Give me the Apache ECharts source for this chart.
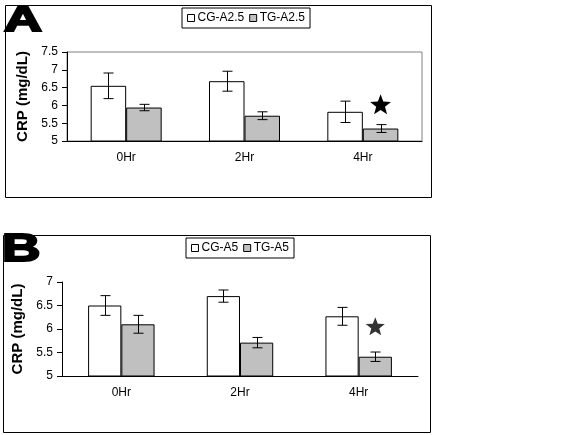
<!DOCTYPE html>
<html>
<head>
<meta charset="utf-8">
<script src="https://cdn.jsdelivr.net/npm/echarts@6/dist/echarts.min.js"></script>
<style>
  html, body { margin: 0; padding: 0; background: #fff; }
  #main { width: 583px; height: 435px; }
</style>
</head>
<body>
<div id="main"></div>
<script>
// categories / values
const categories = ['0Hr', '2Hr', '4Hr'];
// panel A
const cgA = [6.55, 6.68, 5.82];
const cgAErr = [0.36, 0.28, 0.30];
const tgA = [5.94, 5.71, 5.35];
const tgAErr = [0.09, 0.11, 0.11];
const starA = [2, 6.03];
// panel B
const cgB = [6.5, 6.7, 6.27];
const cgBErr = [0.21, 0.13, 0.19];
const tgB = [6.1, 5.71, 5.41];
const tgBErr = [0.19, 0.11, 0.10];
const starB = [2, 6.06];

const gapA = 0.40, gapB = 0.44;
const font = 'Liberation Sans, Arial, sans-serif';

function errorItem(gap, side) {
  return function (params, api) {
    const idx = api.value(0), v = api.value(1), e = api.value(2);
    const band = api.size([1, 0])[0];
    const off = side * band * (1 - gap) / 4;
    const hi = api.coord([idx, v + e]);
    const lo = api.coord([idx, v - e]);
    const x = Math.round(hi[0] + off) + 0.5;
    const st = { stroke: '#000', lineWidth: 1 };
    return {
      type: 'group',
      children: [
        { type: 'line', shape: { x1: x, y1: hi[1], x2: x, y2: lo[1] }, style: st },
        { type: 'line', shape: { x1: x - 5, y1: hi[1], x2: x + 5, y2: hi[1] }, style: st },
        { type: 'line', shape: { x1: x - 5, y1: lo[1], x2: x + 5, y2: lo[1] }, style: st }
      ]
    };
  };
}

function starItem(gap, r, color) {
  return function (params, api) {
    const band = api.size([1, 0])[0];
    const c = api.coord([api.value(0), api.value(1)]);
    const cx = c[0] + band * (1 - gap) / 4, cy = c[1];
    const pts = [];
    for (let k = 0; k < 10; k++) {
      const a = -Math.PI / 2 + k * Math.PI / 5;
      const rr = k % 2 ? r * 0.42 : r;
      pts.push([cx + rr * Math.cos(a), cy + rr * Math.sin(a) + 1]);
    }
    return { type: 'polygon', shape: { points: pts }, style: { fill: color } };
  };
}

function errData(vals, errs) {
  return categories.map((c, i) => [i, vals[i], errs[i]]);
}

const axisText = { color: '#000', fontSize: 12, fontFamily: font };

function xAx(gridIndex) {
  return {
    type: 'category', gridIndex: gridIndex, data: categories,
    axisLine: { lineStyle: { color: '#000', width: 1 } },
    axisTick: { length: 4, lineStyle: { color: '#000' } },
    axisLabel: Object.assign({ margin: 11 }, axisText)
  };
}
function yAx(gridIndex, max) {
  return {
    type: 'value', gridIndex: gridIndex, min: 5, max: max, interval: 0.5,
    name: 'CRP (mg/dL)', nameLocation: 'middle', nameRotate: 90, nameGap: 36,
    nameTextStyle: { color: '#000', fontSize: 15, fontWeight: 'bold', fontFamily: font },
    axisLine: { show: true, lineStyle: { color: '#000', width: 1 } },
    axisTick: { show: true, length: 5, lineStyle: { color: '#000' } },
    axisLabel: Object.assign({ margin: 9 }, axisText),
    splitLine: { show: false }
  };
}

const barBorder = { borderColor: '#000', borderWidth: 1 };
function bar(name, data, color, gi, gap) {
  return {
    name: name, type: 'bar', xAxisIndex: gi, yAxisIndex: gi, data: data,
    barGap: '0%', barCategoryGap: (gap * 100) + '%',
    itemStyle: Object.assign({ color: color }, barBorder),
    emphasis: { disabled: true }, z: 2
  };
}

const legendBase = {
  orient: 'horizontal', icon: 'rect', itemWidth: 7, itemHeight: 7, itemGap: 5,
  borderColor: '#000', borderWidth: 1, padding: [4, 5], borderRadius: 0,
  textStyle: { color: '#000', fontSize: 12, fontFamily: font, padding: [0, 0, 0, -2] },
  itemStyle: { borderColor: '#000', borderWidth: 1 },
  selectedMode: false
};

const chart = echarts.init(document.getElementById('main'), null, { renderer: 'canvas' });
chart.setOption({
  backgroundColor: '#fff',
  animation: false,
  grid: [
    { left: 67, top: 52, width: 355, height: 89, show: true, borderColor: '#808080', borderWidth: 1, backgroundColor: 'transparent' },
    { left: 62, top: 282, width: 356, height: 94 }
  ],
  legend: [
    Object.assign({ left: 182, top: 8, data: ['CG-A2.5', 'TG-A2.5'] }, legendBase),
    Object.assign({ left: 186, top: 238, data: ['CG-A5', 'TG-A5'] }, legendBase)
  ],
  xAxis: [xAx(0), xAx(1)],
  yAxis: [yAx(0, 7.5), yAx(1, 7)],
  series: [
    bar('CG-A2.5', cgA, '#ffffff', 0, gapA),
    bar('TG-A2.5', tgA, '#c0c0c0', 0, gapA),
    bar('CG-A5', cgB, '#ffffff', 1, gapB),
    bar('TG-A5', tgB, '#c0c0c0', 1, gapB),
    { type: 'custom', xAxisIndex: 0, yAxisIndex: 0, renderItem: errorItem(gapA, -1), data: errData(cgA, cgAErr), z: 5 },
    { type: 'custom', xAxisIndex: 0, yAxisIndex: 0, renderItem: errorItem(gapA, 1), data: errData(tgA, tgAErr), z: 5 },
    { type: 'custom', xAxisIndex: 1, yAxisIndex: 1, renderItem: errorItem(gapB, -1), data: errData(cgB, cgBErr), z: 5 },
    { type: 'custom', xAxisIndex: 1, yAxisIndex: 1, renderItem: errorItem(gapB, 1), data: errData(tgB, tgBErr), z: 5 },
    { type: 'custom', xAxisIndex: 0, yAxisIndex: 0, renderItem: starItem(gapA, 11, '#000'), data: [starA], z: 5 },
    { type: 'custom', xAxisIndex: 1, yAxisIndex: 1, renderItem: starItem(gapB, 10, '#333'), data: [starB], z: 5 }
  ],
  graphic: [
    // panel frames
    { type: 'rect', shape: { x: 5.5, y: 5.5, width: 426, height: 192 }, style: { fill: 'none', stroke: '#000', lineWidth: 1 }, z: 0 },
    { type: 'rect', shape: { x: 3.5, y: 235.5, width: 427, height: 197 }, style: { fill: 'none', stroke: '#000', lineWidth: 1 }, z: 0 },
    // panel letters
    { type: 'text', x: 4, y: 4, scaleX: 1.5, style: { text: 'A', fill: '#000', stroke: '#000', lineWidth: 2, font: '900 35px ' + font, verticalAlign: 'top' }, z: 10 },
    { type: 'text', x: 2, y: 232, scaleX: 1.4, style: { text: 'B', fill: '#000', stroke: '#000', lineWidth: 2, font: '900 38px ' + font, verticalAlign: 'top' }, z: 10 }
  ]
});
</script>
</body>
</html>
